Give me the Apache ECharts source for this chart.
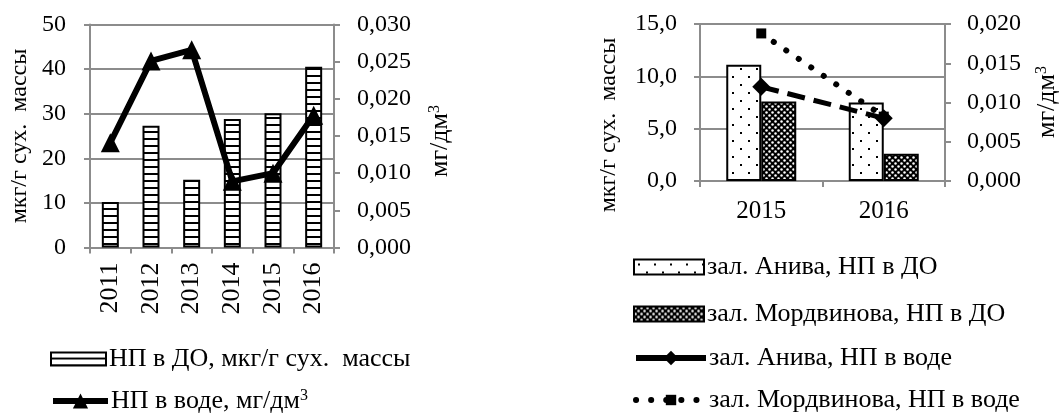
<!DOCTYPE html>
<html><head><meta charset="utf-8">
<script src="https://cdn.jsdelivr.net/npm/echarts@6/dist/echarts.min.js"></script>
<style>html,body{margin:0;padding:0;background:#fff}#c{width:1062px;height:414px}</style>
</head><body><div id="c"></div>
<script>
// ---- data ----
const yearsA = ['2011', '2012', '2013', '2014', '2015', '2016'];
const sedimentA = [10.2, 27.3, 15.2, 28.8, 30.1, 40.5];
const waterA = [0.0141, 0.0251, 0.0266, 0.0089, 0.0100, 0.0178];
const yearsB = ['2015', '2016'];
const anivaSed = [11.1, 7.5];
const mordSed = [7.6, 2.6];
const anivaWater = [0.0120, 0.0080];
const mordWater = [0.0188, 0.0082];
const seriesNamesA = ['НП в ДО, мкг/г сух.  массы', 'НП в воде, мг/дм³'];
const seriesNamesB = ['зал. Анива, НП в ДО', 'зал. Мордвинова, НП в ДО', 'зал. Анива, НП в воде', 'зал. Мордвинова, НП в воде'];
const axisNameMass = 'мкг/г сух.  массы';
const axisNameConc = ['мг/дм', '3'];

// ---- patterns ----
function mk(w, h, draw) { const c = document.createElement('canvas'); c.width = w; c.height = h; const g = c.getContext('2d'); draw(g, w, h); return c; }
const stripePat = mk(8, 7, (g, w, h) => { g.fillStyle = '#fff'; g.fillRect(0, 0, w, h); g.fillStyle = '#000'; g.fillRect(0, 5, w, 2); });
const dotPat = mk(16, 16, (g, w, h) => { g.fillStyle = '#fff'; g.fillRect(0, 0, w, h); g.fillStyle = '#000'; g.fillRect(4, 4, 2, 2); g.fillRect(12, 12, 2, 2); });
const weavePat = mk(6, 6, (g, w, h) => {
  g.fillStyle = '#000'; g.fillRect(0, 0, w, h); g.fillStyle = '#fff';
  [[1.5, 1.5], [4.5, 4.5]].forEach(p => { g.beginPath(); g.arc(p[0], p[1], 1.25, 0, Math.PI * 2); g.fill(); });
});

const FONT = 'Liberation Serif';
const GRAY = '#8c8c8c';
const fmt = d => v => v.toFixed(d).replace('.', ',');
const txt = { color: '#000', fontFamily: FONT };

const chart = echarts.init(document.getElementById('c'), null, { renderer: 'canvas' });

function legendRow(item, left, centerY, w, h, lineStyle) {
  return { data: [item], left: left, top: centerY - 13, orient: 'horizontal',
    itemWidth: w, itemHeight: h, padding: 0, selectedMode: false,
    formatter: n => n.endsWith('³') ? '{a|' + n.slice(0, -1) + '}{s|3}' : '{a|' + n + '}',
    textStyle: Object.assign({ fontSize: 26, padding: [0, 0, 0, -2],
      rich: { a: { fontSize: 26, fontFamily: FONT, color: '#000' }, s: { fontSize: 16, fontFamily: FONT, color: '#000', verticalAlign: 'top' } } }, txt),
    lineStyle: lineStyle || { width: 'inherit', type: 'inherit' } };
}

function nameText(x, y, content, size) {
  return { type: 'text', x: x, y: y, rotation: Math.PI / 2,
    style: { text: content, fontSize: size, fontFamily: FONT, fill: '#000', align: 'center', verticalAlign: 'middle',
      rich: { a: { fontSize: size, fontFamily: FONT, fill: '#000' }, s: { fontSize: Math.round(size * 0.62), fontFamily: FONT, fill: '#000', verticalAlign: 'top' } } } };
}
const concRich = '{a|' + axisNameConc[0] + '}{s|' + axisNameConc[1] + '}';

const axisCommon = (extra) => Object.assign({
  axisLine: { show: true, lineStyle: { color: GRAY, width: 2 } },
  axisTick: { show: true, length: 6, lineStyle: { color: GRAY, width: 2 } }
}, extra);

const option = {
  backgroundColor: '#fff',
  animation: false,
  grid: [
    { left: 90, right: 728, top: 24.5, bottom: 166.5 },
    { left: 700, right: 117, top: 24, bottom: 233 }
  ],
  xAxis: [
    axisCommon({ type: 'category', gridIndex: 0, data: yearsA,
      axisLabel: Object.assign({ rotate: 90, margin: 15, fontSize: 26 }, txt) }),
    axisCommon({ type: 'category', gridIndex: 1, data: yearsB,
      axisLabel: Object.assign({ margin: 18, fontSize: 25 }, txt) })
  ],
  yAxis: [
    axisCommon({ type: 'value', gridIndex: 0, min: 0, max: 50, interval: 10, position: 'left',
      splitLine: { show: true, lineStyle: { color: GRAY, width: 2 } },
      axisLabel: Object.assign({ margin: 24, fontSize: 24 }, txt) }),
    axisCommon({ type: 'value', gridIndex: 0, min: 0, max: 0.03, interval: 0.005, position: 'right',
      splitLine: { show: false },
      axisLabel: Object.assign({ margin: 23, fontSize: 24, formatter: fmt(3) }, txt) }),
    axisCommon({ type: 'value', gridIndex: 1, min: 0, max: 15, interval: 5, position: 'left',
      splitLine: { show: true, lineStyle: { color: GRAY, width: 2 } },
      axisLabel: Object.assign({ margin: 23, fontSize: 24, formatter: fmt(1) }, txt) }),
    axisCommon({ type: 'value', gridIndex: 1, min: 0, max: 0.02, interval: 0.005, position: 'right',
      splitLine: { show: false },
      axisLabel: Object.assign({ margin: 22, fontSize: 24, formatter: fmt(3) }, txt) })
  ],
  legend: [
    legendRow({ name: seriesNamesA[0], icon: 'rect' }, 50, 359, 55, 13),
    legendRow({ name: seriesNamesA[1] }, 50, 401, 55, 19),
    legendRow({ name: seriesNamesB[0], icon: 'rect' }, 633, 267, 70, 15),
    legendRow({ name: seriesNamesB[1], icon: 'rect' }, 633, 314, 70, 15),
    legendRow({ name: seriesNamesB[2] }, 633, 358, 70, 18, { width: 6, type: 'solid', color: '#000' }),
    legendRow({ name: seriesNamesB[3] }, 633, 400, 70, 13)
  ],
  graphic: [
    nameText(20, 136, axisNameMass, 24),
    nameText(440, 141, concRich, 26),
    nameText(609, 125, axisNameMass, 24),
    nameText(1047, 102, concRich, 26)
  ],
  series: [
    { name: seriesNamesA[0], type: 'bar', xAxisIndex: 0, yAxisIndex: 0, data: sedimentA, barWidth: 17,
      itemStyle: { color: { image: stripePat, repeat: 'repeat' }, borderColor: '#000', borderWidth: 2 } },
    { name: seriesNamesA[1], type: 'line', xAxisIndex: 0, yAxisIndex: 1, data: waterA, z: 5,
      symbol: 'triangle', symbolSize: 19,
      lineStyle: { color: '#000', width: 6 }, itemStyle: { color: '#000' } },
    { name: seriesNamesB[0], type: 'bar', xAxisIndex: 1, yAxisIndex: 2, data: anivaSed, barWidth: 35, barGap: '0%',
      itemStyle: { color: { image: dotPat, repeat: 'repeat' }, borderColor: '#000', borderWidth: 2 } },
    { name: seriesNamesB[1], type: 'bar', xAxisIndex: 1, yAxisIndex: 2, data: mordSed, barWidth: 35, barGap: '0%',
      itemStyle: { color: { image: weavePat, repeat: 'repeat' }, borderColor: '#000', borderWidth: 2 } },
    { name: seriesNamesB[3], type: 'line', xAxisIndex: 1, yAxisIndex: 3, data: mordWater, z: 5,
      symbol: 'rect', symbolSize: 10,
      lineStyle: { color: '#000', width: 6, type: [0.1, 15], cap: 'round' }, itemStyle: { color: '#000' } },
    { name: seriesNamesB[2], type: 'line', xAxisIndex: 1, yAxisIndex: 3, data: anivaWater, z: 6,
      symbol: 'diamond', symbolSize: 18,
      lineStyle: { color: '#000', width: 5, type: [18, 9] }, itemStyle: { color: '#000' } }
  ]
};
chart.setOption(option);
</script>
</body></html>
